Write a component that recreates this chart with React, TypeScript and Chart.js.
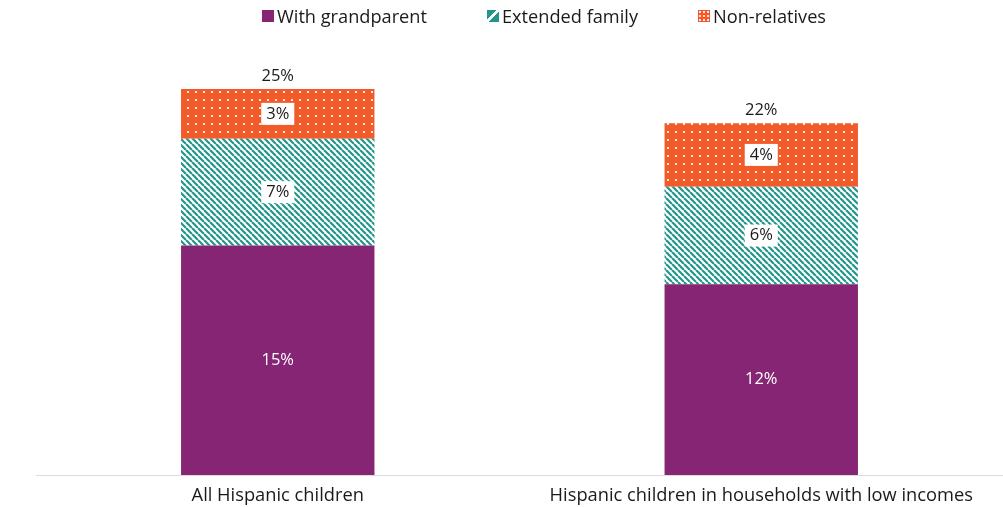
import React, { useEffect, useRef } from "react";
import { Chart, registerables } from "chart.js";

Chart.register(...registerables);

const categories = ["All Hispanic children", "Hispanic children in households with low incomes"];
const seriesNames = ["With grandparent", "Extended family", "Non-relatives"];
const withGrandparent = [14.8, 12.3];
const extendedFamily = [6.9, 6.3];
const nonRelatives = [3.2, 4.1];
const yMax = 30;

const PURPLE = "#862573";
const TEAL = "#22968a";
const ORANGE = "#f15a29";
const FONT = "'Open Sans', 'Noto Sans', sans-serif";
const TEXT = "#1a1a1a";

function makeStripes(): CanvasPattern | string {
  const c = document.createElement("canvas");
  const s = 6;
  c.width = s;
  c.height = s;
  const g = c.getContext("2d");
  if (!g) return TEAL;
  g.fillStyle = "#ffffff";
  g.fillRect(0, 0, s, s);
  g.strokeStyle = TEAL;
  g.lineWidth = 2.2;
  g.beginPath();
  for (let k = -1; k <= 1; k++) {
    g.moveTo(k * s, 0);
    g.lineTo(k * s + s, s);
  }
  g.stroke();
  return g.createPattern(c, "repeat") || TEAL;
}

function makeDots(): CanvasPattern | string {
  const c = document.createElement("canvas");
  const s = 8;
  c.width = s;
  c.height = s;
  const g = c.getContext("2d");
  if (!g) return ORANGE;
  g.fillStyle = ORANGE;
  g.fillRect(0, 0, s, s);
  g.fillStyle = "rgba(255,255,255,0.85)";
  g.fillRect(3, 3, 2, 2);
  return g.createPattern(c, "repeat") || ORANGE;
}

const labelPlugin = {
  id: "stackLabels",
  afterDatasetsDraw(chart: any) {
    const ctx = chart.ctx;
    ctx.save();
    ctx.font = `16.5px ${FONT}`;
    ctx.textAlign = "center";
    ctx.textBaseline = "middle";
    const n = chart.data.labels.length;
    for (let i = 0; i < n; i++) {
      let total = 0;
      let topY = Infinity;
      let cx = 0;
      chart.data.datasets.forEach((ds: any, di: number) => {
        const meta = chart.getDatasetMeta(di);
        const el = meta.data[i];
        if (!el) return;
        const v = Math.round(ds.data[i]);
        total += v;
        const y = (el.y + el.base) / 2;
        cx = el.x;
        topY = Math.min(topY, el.y, el.base);
        const txt = `${v}%`;
        if (di === 0) {
          ctx.fillStyle = "#ffffff";
          ctx.fillText(txt, el.x, y);
        } else {
          const w = ctx.measureText(txt).width + 10;
          const h = 22;
          ctx.fillStyle = "#ffffff";
          ctx.fillRect(el.x - w / 2, y - h / 2, w, h);
          ctx.fillStyle = TEXT;
          ctx.fillText(txt, el.x, y);
        }
      });
      ctx.fillStyle = TEXT;
      ctx.fillText(`${total}%`, cx, topY - 13);
    }
    ctx.restore();
  },
};

function Swatch({ kind }: { kind: number }) {
  const base: React.CSSProperties = { width: 12, height: 12, display: "inline-block", marginRight: 3 };
  if (kind === 0) return <span style={{ ...base, background: PURPLE }} />;
  if (kind === 1)
    return (
      <span
        style={{
          ...base,
          background: `linear-gradient(135deg, ${TEAL} 0%, ${TEAL} 38%, #fff 38%, #fff 55%, ${TEAL} 55%, ${TEAL} 100%)`,
        }}
      />
    );
  return (
    <span
      style={{
        ...base,
        backgroundColor: ORANGE,
        backgroundImage: "radial-gradient(circle, rgba(255,255,255,0.85) 1px, transparent 1.2px)",
        backgroundSize: "4px 4px",
      }}
    />
  );
}

export default function App() {
  const ref = useRef<HTMLCanvasElement | null>(null);

  useEffect(() => {
    document.body.style.margin = "0";
    if (!ref.current) return;
    const chart = new Chart(ref.current, {
      type: "bar",
      data: {
        labels: categories,
        datasets: [
          { label: seriesNames[0], data: withGrandparent, backgroundColor: PURPLE },
          { label: seriesNames[1], data: extendedFamily, backgroundColor: makeStripes() as any },
          { label: seriesNames[2], data: nonRelatives, backgroundColor: makeDots() as any },
        ],
      },
      options: {
        animation: false,
        responsive: true,
        maintainAspectRatio: false,
        layout: { padding: { left: 36, right: 0, top: 10, bottom: 0 } },
        datasets: { bar: { categoryPercentage: 1, barPercentage: 0.4 } },
        plugins: { legend: { display: false }, tooltip: { enabled: false } },
        scales: {
          x: {
            stacked: true,
            grid: { display: false, drawTicks: false },
            border: { display: true, color: "#dcdcdc", width: 1 },
            ticks: { color: TEXT, font: { family: FONT, size: 18.3 }, padding: 10 },
            afterFit: (scale: any) => {
              scale.height = 32;
            },
          },
          y: {
            stacked: true,
            display: false,
            min: 0,
            max: yMax,
          },
        },
      },
      plugins: [labelPlugin],
    });
    return () => chart.destroy();
  }, []);

  return (
    <div style={{ position: "relative", width: 1003, height: 507 }}>
      <canvas ref={ref} />
      <div
        style={{
          position: "absolute",
          top: 5,
          left: 262,
          display: "flex",
          gap: 60,
          fontFamily: FONT,
          fontSize: 18.2,
          color: TEXT,
          lineHeight: "22px",
          whiteSpace: "nowrap",
        }}
      >
        {seriesNames.map((n, i) => (
          <span key={n} style={{ display: "flex", alignItems: "center" }}>
            <Swatch kind={i} />
            {n}
          </span>
        ))}
      </div>
    </div>
  );
}
